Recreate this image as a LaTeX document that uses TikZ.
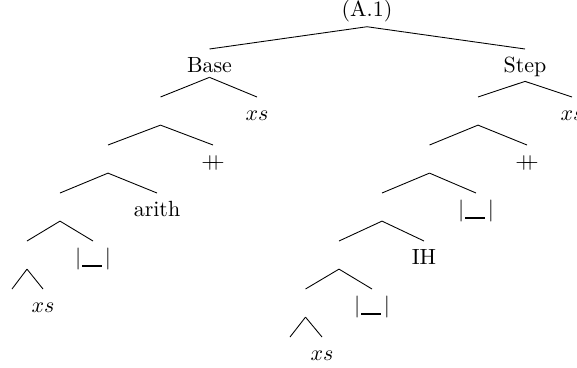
\documentclass[tikz,border=0pt]{standalone}
\usepackage{amsmath}
\newcommand{\concat}{\mathbin{+\!\!\!+}}
\newcommand{\hole}{\ensuremath{|\kern0.5pt\rule[-1.3pt]{9pt}{0.9pt}\kern1.2pt|}}
\begin{document}
\begin{tikzpicture}
		\tikzstyle{lab}=[inner sep=2pt,text height=8.4pt,anchor=north]
		\tikzstyle{branch}=[draw, thin]
		\useasboundingbox (0,0) rectangle (9.232,-5.872);
		\begin{scope}
			\node [lab] (root) at (5.872,0.11) {(A.1)};
			\node [lab] (base) at (3.352,-0.784) {Base};
			\node [lab] (step) at (8.40,-0.784) {Step};
			\node [lab] (b2) at (2.568,-1.552) {};
			\node [lab] (bxs) at (4.112,-1.552) {$xs$};
			\node [lab] (b3) at (1.728,-2.32) {};
			\node [lab] (bcat) at (3.408,-2.32) {$\concat$};
			\node [lab] (b4) at (0.96,-3.088) {};
			\node [lab] (barith) at (2.512,-3.088) {arith};
			\node [lab] (b5) at (0.432,-3.856) {};
			\node [lab] (bhole) at (1.488,-3.856) {\hole};
			\node [lab] (b6) at (0.192,-4.624) {};
			\node [lab] (bxs6) at (0.688,-4.624) {$xs$};
			\node [lab] (s2) at (7.648,-1.552) {};
			\node [lab] (sxs) at (9.152,-1.552) {$xs$};
			\node [lab] (s3) at (6.872,-2.32) {};
			\node [lab] (scat) at (8.432,-2.32) {$\concat$};
			\node [lab] (s4) at (6.112,-3.088) {};
			\node [lab] (shole) at (7.616,-3.088) {\hole};
			\node [lab] (s5) at (5.424,-3.856) {};
			\node [lab] (sih) at (6.784,-3.856) {IH};
			\node [lab] (s6) at (4.888,-4.624) {};
			\node [lab] (shole6) at (5.952,-4.624) {\hole};
			\node [lab] (s7) at (4.64,-5.392) {};
			\node [lab] (sxs7) at (5.152,-5.392) {$xs$};
			\path[branch] (root.south) edge (base.north) edge (step.north);
			\path[branch] (base.south) edge (b2.north) edge (bxs.north);
			\path[branch] (b2.south) edge (b3.north) edge (bcat.north);
			\path[branch] (b3.south) edge (b4.north) edge (barith.north);
			\path[branch] (b4.south) edge (b5.north) edge (bhole.north);
			\path[branch] (b5.south) edge (b6.north) edge (bxs6.north);
			\path[branch] (step.south) edge (s2.north) edge (sxs.north);
			\path[branch] (s2.south) edge (s3.north) edge (scat.north);
			\path[branch] (s3.south) edge (s4.north) edge (shole.north);
			\path[branch] (s4.south) edge (s5.north) edge (sih.north);
			\path[branch] (s5.south) edge (s6.north) edge (shole6.north);
			\path[branch] (s6.south) edge (s7.north) edge (sxs7.north);
		\end{scope}
\end{tikzpicture}
\end{document}
